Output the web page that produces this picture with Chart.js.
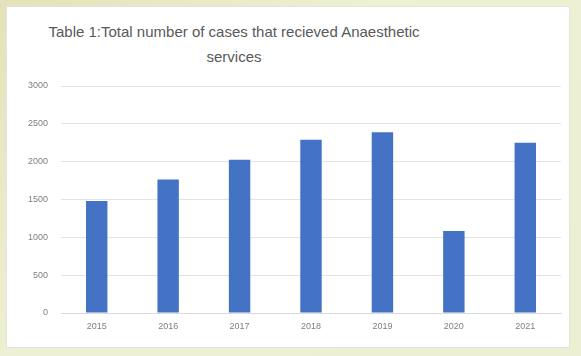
<!DOCTYPE html>
<html>
<head>
<meta charset="utf-8">
<script src="https://cdn.jsdelivr.net/npm/chart.js@4"></script>
<style>
    html, body { margin: 0; padding: 0; }
    body {
        width: 581px; height: 356px; position: relative; overflow: hidden;
        background: linear-gradient(135deg, #e4e2b8 0%, #eef0d4 40%, #ecefd2 100%);
        font-family: "Liberation Sans", sans-serif;
    }
    #panel {
        position: absolute; left: 6px; top: 6px; width: 564px; height: 342px;
        background: #fff; border: 1px solid #e2e2e2; box-sizing: border-box;
    }
    #titulo {
        position: absolute; left: 0; top: 12px; width: 454px;
        text-align: center; color: #595959; font-size: 15px; line-height: 25px;
        white-space: nowrap;
    }
    #grafica { position: absolute; left: 0; top: 0; }
</style>
</head>
<body>
<div id="panel">
    <div id="titulo">Table 1:Total number of cases that recieved Anaesthetic<br>services</div>
    <canvas id="grafica" width="562" height="340"></canvas>
</div>
<script>
// Años y número de casos atendidos
const anios = ['2015', '2016', '2017', '2018', '2019', '2020', '2021'];
const casos = [1480, 1765, 2025, 2290, 2390, 1085, 2250];
const ticksY = [0, 500, 1000, 1500, 2000, 2500, 3000];

document.addEventListener('DOMContentLoaded', () => {
    const ctx = document.getElementById('grafica').getContext('2d');

    new Chart(ctx, {
        type: 'bar',
        data: {
            labels: anios,
            datasets: [{
                label: 'Casos',
                data: casos,
                backgroundColor: '#4472c4',
                borderWidth: 0,
                barPercentage: 0.3,
                categoryPercentage: 1
            }]
        },
        options: {
            responsive: false,
            animation: false,
            layout: { padding: { top: 79, right: 8, bottom: 6, left: 0 } },
            plugins: {
                legend: { display: false },
                tooltip: { enabled: false }
            },
            scales: {
                x: {
                    grid: { display: false, drawTicks: false },
                    border: { color: '#d9d9d9' },
                    ticks: { color: '#7f7f7f', font: { size: 9 }, padding: 8 },
                    afterFit: (scale) => { scale.height = 28; }
                },
                y: {
                    min: 0,
                    max: 3000,
                    afterBuildTicks: (scale) => { scale.ticks = ticksY.map(v => ({ value: v })); },
                    grid: { color: '#e3e3e3', drawTicks: false },
                    border: { display: false },
                    ticks: {
                        color: '#7f7f7f',
                        font: { size: 9 },
                        padding: 13,
                        callback: (valor) => String(valor)
                    },
                    afterFit: (scale) => { scale.width = 54; }
                }
            }
        }
    });
});
</script>
</body>
</html>
